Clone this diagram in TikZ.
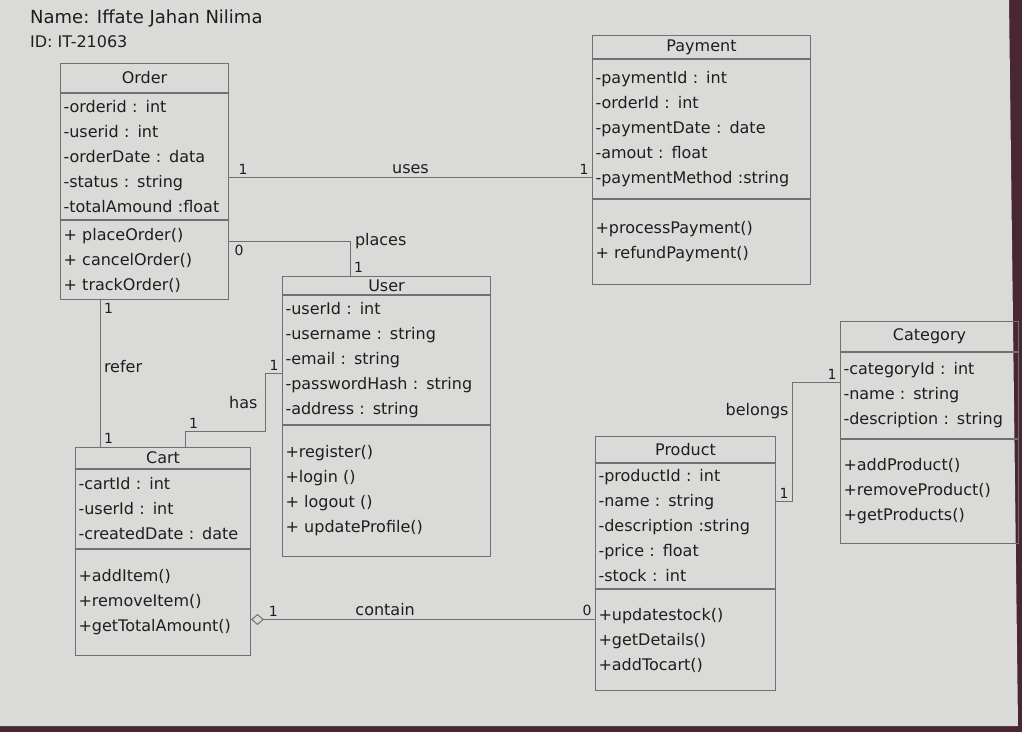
\documentclass[tikz,border=0pt]{standalone}
\usepackage{fontspec}
\setmainfont{DejaVu Sans}
\usetikzlibrary{positioning, arrows.meta}
\definecolor{paper}{RGB}{218,219,216}
\definecolor{backdrop}{RGB}{72,38,52}
\definecolor{pencil}{RGB}{112,112,112}
\definecolor{ink}{RGB}{30,30,30}

\begin{document}
\begin{tikzpicture}[
    x=1pt, y=-1pt,
    every node/.style={text=ink},
    part/.style={draw=pencil, line width=1pt, inner xsep=3pt, inner ysep=0pt, font=\fontsize{16}{25}\selectfont},
    headbox/.style 2 args={part, align=center, text width=#1, minimum height=#2},
    listbox/.style 2 args={part, align=left, text width=#1, minimum height=#2},
    link/.style={draw=pencil, line width=1pt},
    aggr/.style={link, {Diamond[open, length=13pt, width=11pt]}-},
    mult/.style={font=\fontsize{14}{14}\selectfont, inner sep=3pt},
    assoc/.style={font=\fontsize{16}{16}\selectfont, inner sep=3pt},
]
\useasboundingbox (0,0) rectangle (1022,732);

% paper on the table
\fill[backdrop] (0,0) rectangle (1022,732);
\fill[paper] (0,0) -- (1009,0) -- (1018,726) -- (0,726) -- cycle;

% Student
\node[font=\fontsize{18}{18}\selectfont, anchor=west, inner sep=0pt] (stuname) at (30,18) {Name: Iffate Jahan Nilima};
\node[font=\fontsize{16}{16}\selectfont, anchor=west, inner sep=0pt] (stuid) at (30,42) {ID: IT-21063};

% Order
\node[headbox={162pt}{29pt}, anchor=north west] (ordhead) at (60,63) {Order};
\node[listbox={162pt}{126pt}, below=0pt of ordhead] (ordattr)
    {-orderid : int\\-userid : int\\-orderDate : data\\-status : string\\-totalAmound :float};
\node[listbox={162pt}{79pt}, below=0pt of ordattr] (ordops)
    {+ placeOrder()\\+ cancelOrder()\\+ trackOrder()};

% Payment
\node[headbox={212pt}{23pt}, anchor=north west] (payhead) at (592,35) {Payment};
\node[listbox={212pt}{139pt}, below=0pt of payhead] (payattr)
    {-paymentId : int\\-orderId : int\\-paymentDate : date\\-amout : float\\-paymentMethod :string};
\node[listbox={212pt}{85pt}, below=0pt of payattr] (payops)
    {+processPayment()\\+ refundPayment()};

% User
\node[headbox={202pt}{18pt}, anchor=north west] (usrhead) at (282,276) {User};
\node[listbox={202pt}{129pt}, below=0pt of usrhead] (usrattr)
    {-userId : int\\-username : string\\-email : string\\-passwordHash : string\\-address : string};
\node[listbox={202pt}{131pt}, below=0pt of usrattr] (usrops)
    {+register()\\+login ()\\+ logout ()\\+ updateProfile()\\[8pt]};

% Cart
\node[headbox={169pt}{21pt}, anchor=north west] (carthead) at (75,447) {Cart};
\node[listbox={169pt}{79pt}, below=0pt of carthead] (cartattr)
    {-cartId : int\\-userId : int\\-createdDate : date};
\node[listbox={169pt}{106pt}, below=0pt of cartattr] (cartops)
    {+addItem()\\+removeItem()\\+getTotalAmount()};

% Product
\node[headbox={174pt}{26pt}, anchor=north west] (prodhead) at (595,436) {Product};
\node[listbox={174pt}{125pt}, below=0pt of prodhead] (prodattr)
    {-productId : int\\-name : string\\-description :string\\-price : float\\-stock : int};
\node[listbox={174pt}{101pt}, below=0pt of prodattr] (prodops)
    {+updatestock()\\+getDetails()\\+addTocart()};

% Category
\node[headbox={172pt}{30pt}, anchor=north west] (cathead) at (840,321) {Category};
\node[listbox={172pt}{86pt}, below=0pt of cathead] (catattr)
    {-categoryId : int\\-name : string\\-description : string};
\node[listbox={172pt}{104pt}, below=0pt of catattr] (catops)
    {+addProduct()\\+removeProduct()\\+getProducts()};

% Associations
\draw[link] ([yshift=-21pt]ordattr.east) -- ([yshift=-21pt]ordattr.east -| payattr.west)
    node[mult, pos=0, above right, xshift=6pt] (m1) {1}
    node[assoc, midway, above] (luses) {uses}
    node[mult, pos=1, above left] (m2) {1};
\draw[link] ([yshift=18.5pt]ordops.east) -| ([xshift=-36pt]usrhead.north)
    node[mult, pos=0, below right, xshift=2pt] (m3) {0}
    node[assoc, pos=0.5, anchor=west, xshift=1pt] (lplaces) {places}
    node[mult, pos=1, above right] (m4) {1};
\draw[link] ([xshift=-44pt]ordops.south) -- ([xshift=-44pt]ordops.south |- carthead.north)
    node[mult, pos=0, below right] (m5) {1}
    node[assoc, pos=0.45, right] (lrefer) {refer}
    node[mult, pos=1, above right] (m6) {1};
\draw[link] ([yshift=-13.5pt]usrattr.west) -- ++(-17,0)
    node[mult, pos=0, above left] (m7) {1}
    -- ++(0,58) node[assoc, midway, left=4pt] (lhas) {has}
    -| ([xshift=22.5pt]carthead.north)
    node[mult, pos=0.5, above right] (m8) {1};
\draw[aggr] ([yshift=-17pt]cartops.east) -- ([yshift=-17pt]cartops.east -| prodops.west)
    node[mult, pos=0.065, above] (m9) {1}
    node[assoc, pos=0.39, above] (lcontain) {contain}
    node[mult, pos=1, above left] (m10) {0};
\draw[link] ([yshift=13pt]catattr.west) -- ++(-48,0)
    node[mult, pos=0, above left] (m11) {1}
    |- ([yshift=24.5pt]prodattr.east)
    node[assoc, pos=0.12, left] (lbelongs) {belongs}
    node[mult, pos=1, above right] (m12) {1};

\end{tikzpicture}
\end{document}
